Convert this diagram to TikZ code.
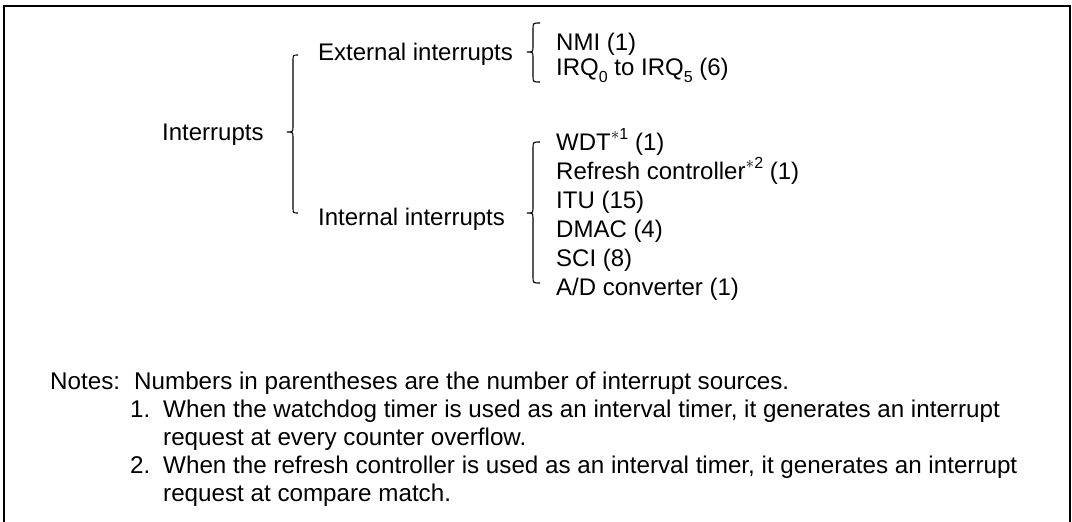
\documentclass[tikz,border=0pt]{standalone}
\usepackage{fontspec}
\setmainfont{Liberation Sans}
\newcommand\supx[1]{\raisebox{0.42em}{\fontsize{16}{16}\selectfont #1}}
\newcommand\subx[1]{\raisebox{-0.32em}{\fontsize{16}{16}\selectfont #1}}
\begin{document}
\begin{tikzpicture}[x=1pt,y=-1pt,
  txt/.style={anchor=base west,inner sep=0pt,font=\fontsize{24}{28}\selectfont},
  note/.style={anchor=base west,inner sep=0pt,font=\fontsize{24.2}{28}\selectfont},
  bracepath/.style={line width=1.1pt,black},
  frameline/.style={line width=2pt,black}]
\useasboundingbox (0,0) rectangle (1072,522);
\draw[frameline] (4,530) -- (4,6) -- (1070,6) -- (1070,530);

% main brace
\draw[bracepath] (298,55) .. controls (293,55) .. (293,61) -- (293,126)
  .. controls (293,132) .. (287,132) .. controls (293,132) .. (293,138)
  -- (293,207) .. controls (293,213) .. (298,213);
% external brace
\draw[bracepath] (540,23) .. controls (533,23) .. (533,29) -- (533,46)
  .. controls (533,52) .. (527,52) .. controls (533,52) .. (533,58)
  -- (533,76) .. controls (533,82) .. (540,82);
% internal brace
\draw[bracepath] (540,142) .. controls (533,142) .. (533,148) -- (533,207)
  .. controls (533,213) .. (527,213) .. controls (533,213) .. (533,219)
  -- (533,277) .. controls (533,283) .. (540,283);

\node[txt] (intr) at (162,140) {Interrupts};
\node[txt] (ext) at (318,60) {External interrupts};
\node[txt] (int) at (318,225) {Internal interrupts};

\node[txt] (nmi) at (556,50) {NMI (1)};
\node[txt] (irq) at (556,75) {IRQ\subx{0} to IRQ\subx{5} (6)};

\node[txt] (wdt) at (556,150) {WDT\supx{$\ast$1} (1)};
\node[txt] (ref) at (556,179) {Refresh controller\supx{$\ast$2} (1)};
\node[txt] (itu) at (556,208) {ITU (15)};
\node[txt] (dmac) at (556,237) {DMAC (4)};
\node[txt] (sci) at (556,266) {SCI (8)};
\node[txt] (adc) at (556,295) {A/D converter (1)};

\node[note] (notes) at (50,389) {Notes:};
\node[note] (n0) at (134,389) {Numbers in parentheses are the number of interrupt sources.};
\node[note] (n1a) at (130,417) {1.};
\node[note] (n1) at (163,417) {When the watchdog timer is used as an interval timer, it generates an interrupt};
\node[note] (n1b) at (163,445) {request at every counter overflow.};
\node[note] (n2a) at (130,473) {2.};
\node[note] (n2) at (163,473) {When the refresh controller is used as an interval timer, it generates an interrupt};
\node[note] (n2b) at (163,501) {request at compare match.};
\end{tikzpicture}
\end{document}
